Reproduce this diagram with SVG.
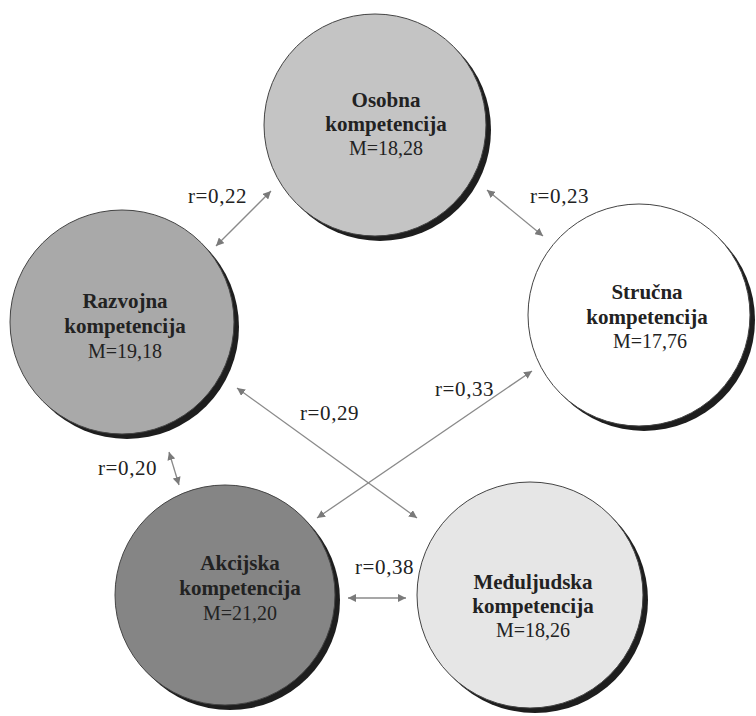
<svg xmlns="http://www.w3.org/2000/svg" width="756" height="716" viewBox="0 0 756 716">
<style>
.shadow{fill:#1e1e1e}
.node{stroke:#444;stroke-width:1}
.name{font-family:"Liberation Serif",serif;font-size:21px;font-weight:bold;fill:#222;text-anchor:middle}
.m{font-family:"Liberation Serif",serif;font-size:20px;fill:#222;text-anchor:middle}
.lbl{font-family:"Liberation Serif",serif;font-size:21px;fill:#222;letter-spacing:0.6px}
.conn{stroke:#8a8a8a;stroke-width:1.3;fill:none;marker-start:url(#ah);marker-end:url(#ah)}
</style>
<defs>
<marker id="ah" viewBox="0 0 10 10" refX="10" refY="5" markerWidth="8" markerHeight="8" markerUnits="userSpaceOnUse" orient="auto-start-reverse">
<path d="M0,0 L10,5 L0,10 z" fill="#7a7a7a"/>
</marker>
</defs>
<rect width="756" height="716" fill="#ffffff"/>

<g id="osobna">
<circle class="shadow" cx="380" cy="130" r="111"/>
<circle class="node" cx="375" cy="125" r="111" fill="#c4c4c4"/>
<text class="name" x="386" y="107">Osobna</text>
<text class="name" x="386" y="131">kompetencija</text>
<text class="m" x="386" y="155">M=18,28</text>
</g>

<g id="razvojna">
<circle class="shadow" cx="127" cy="327" r="112"/>
<circle class="node" cx="122" cy="322" r="112" fill="#a9a9a9"/>
<text class="name" x="125" y="308">Razvojna</text>
<text class="name" x="125" y="333">kompetencija</text>
<text class="m" x="125" y="358">M=19,18</text>
</g>

<g id="strucna">
<circle class="shadow" cx="644" cy="320" r="111"/>
<circle class="node" cx="639" cy="315" r="111" fill="#ffffff" stroke="#222" stroke-width="1.5"/>
<text class="name" x="647" y="299">Stručna</text>
<text class="name" x="647" y="324">kompetencija</text>
<text class="m" x="650" y="348">M=17,76</text>
</g>

<g id="akcijska">
<circle class="shadow" cx="230" cy="600" r="110"/>
<circle class="node" cx="225" cy="595" r="110" fill="#858585"/>
<text class="name" x="240" y="570">Akcijska</text>
<text class="name" x="240" y="595">kompetencija</text>
<text class="m" x="240" y="620">M=21,20</text>
</g>

<g id="meduljudska">
<circle class="shadow" cx="535" cy="600" r="113"/>
<circle class="node" cx="530" cy="595" r="113" fill="#e6e6e6"/>
<text class="name" x="533" y="589">Međuljudska</text>
<text class="name" x="533" y="613">kompetencija</text>
<text class="m" x="533" y="637">M=18,26</text>
</g>

<g id="connectors">
<line class="conn" x1="271" y1="191" x2="216" y2="246"/>
<line class="conn" x1="487" y1="190" x2="543" y2="236"/>
<line class="conn" x1="237" y1="388" x2="417" y2="518"/>
<line class="conn" x1="317" y1="518" x2="532" y2="371"/>
<line class="conn" x1="169" y1="452" x2="179" y2="485"/>
<line class="conn" x1="348" y1="598" x2="406" y2="598"/>
<text class="lbl" x="188" y="203">r=0,22</text>
<text class="lbl" x="530" y="203">r=0,23</text>
<text class="lbl" x="300" y="420">r=0,29</text>
<text class="lbl" x="435" y="396">r=0,33</text>
<text class="lbl" x="98" y="475">r=0,20</text>
<text class="lbl" x="355" y="574">r=0,38</text>
</g>
</svg>
